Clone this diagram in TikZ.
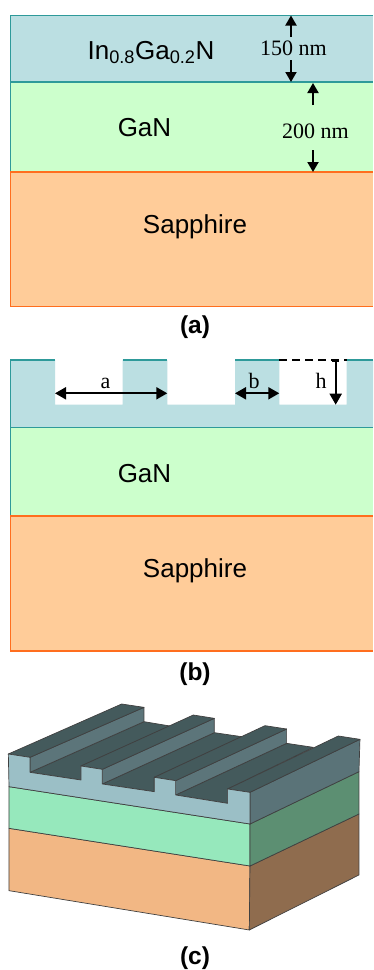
\documentclass[tikz,border=0pt]{standalone}
\usepackage{fontspec}
\setmainfont{Liberation Sans}
\newfontfamily\serifnum{Liberation Serif}
\usetikzlibrary{arrows.meta}
\definecolor{inblue}{HTML}{BBDFE2}
\definecolor{teal1}{HTML}{2E9A9A}
\definecolor{gangreen}{HTML}{CCFFCC}
\definecolor{sapp}{HTML}{FFCC99}
\definecolor{sappline}{HTML}{FF6E1E}
\definecolor{topdark}{HTML}{445A5C}
\definecolor{walllight}{HTML}{5C757A}
\definecolor{frontblue}{HTML}{9BBFC6}
\definecolor{frontgreen}{HTML}{96E8BC}
\definecolor{frontorange}{HTML}{F2B784}
\definecolor{sideblue}{HTML}{5A7378}
\definecolor{sidegreen}{HTML}{5C8F72}
\definecolor{sideorange}{HTML}{8F6C4E}
\tikzset{
  x=1pt,y=-1pt,
  sanslabel/.style={anchor=base,inner sep=0pt,font=\fontsize{26}{30}\selectfont},
  caplabel/.style={anchor=base,inner sep=0pt,font=\fontsize{24.5}{28}\selectfont\bfseries},
  dimlabel/.style={anchor=base,inner sep=0pt,font=\fontsize{22}{26}\selectfont\serifnum},
  tealline/.style={draw=teal1,line width=1.6pt},
  orangeline/.style={draw=sappline,line width=1.8pt},
  dimarrow/.style={-{Triangle[length=10pt,width=11pt]},line width=2pt,black},
  dimboth/.style={{Triangle[length=11pt,width=12pt]}-{Triangle[length=11pt,width=12pt]},line width=2pt,black},
  edge3d/.style={draw=black!75,line width=0.7pt,line join=round},
}
\begin{document}
\begin{tikzpicture}
\useasboundingbox (0,0) rectangle (373,970);
\fill[white] (0,0) rectangle (373,970);
% ---- panel a ----
\fill[sapp] (10.5,172) rectangle (373,306.5);
\fill[gangreen] (10.5,82) rectangle (373,172);
\fill[inblue] (10.5,15.5) rectangle (373,82);
\draw[tealline] (373,15.5) -- (10.5,15.5) -- (10.5,172);
\draw[tealline] (10.5,82) -- (373,82);
\draw[orangeline] (373,172) -- (10.5,172) -- (10.5,306.5) -- (373,306.5);
\node[sanslabel] (ingan) at (151,59) {In\textsubscript{0.8}Ga\textsubscript{0.2}N};
\node[sanslabel] (gana) at (144.5,136.5) {GaN};
\node[sanslabel] (sappa) at (195,233) {Sapphire};
\node[dimlabel] (d150) at (293.5,55) {150 nm};
\node[dimlabel] (d200) at (315.5,138.5) {200 nm};
\coordinate (t1) at (291,15.5); \coordinate (t1a) at (291,37);
\coordinate (t2) at (291,82); \coordinate (t2a) at (291,60);
\coordinate (u1) at (313,83); \coordinate (u1a) at (313,105);
\coordinate (u2) at (313,172); \coordinate (u2a) at (313,150);
\draw[dimarrow] (t1a) -- (t1);
\draw[dimarrow] (t2a) -- (t2);
\draw[dimarrow] (u1a) -- (u1);
\draw[dimarrow] (u2a) -- (u2);
\node[caplabel] (capa) at (195,333) {(a)};
% ---- panel b ----
\fill[sapp] (10.5,516) rectangle (373,651);
\fill[gangreen] (10.5,427.3) rectangle (373,516);
\fill[inblue] (10.5,360) -- (55,360) -- (55,404.7) -- (122.7,404.7) -- (122.7,360) -- (167.3,360) -- (167.3,404.7) -- (235,404.7) -- (235,360) -- (279.3,360) -- (279.3,404.7) -- (346.7,404.7) -- (346.7,360) -- (373,360) -- (373,427.3) -- (10.5,427.3) -- cycle;
\draw[tealline] (55,360) -- (10.5,360) -- (10.5,516);
\draw[tealline] (122.7,360) -- (167.3,360);
\draw[tealline] (235,360) -- (279.3,360);
\draw[tealline] (346.7,360) -- (373,360);
\draw[tealline] (10.5,427.3) -- (373,427.3);
\draw[orangeline] (373,516) -- (10.5,516) -- (10.5,651) -- (373,651);
\draw[black,line width=2pt,dash pattern=on 8pt off 5pt] (279.3,360) -- (346.7,360);
\coordinate (a1) at (55,393.3); \coordinate (a2) at (167.3,393.3);
\coordinate (b1) at (235,393.3); \coordinate (b2) at (279.3,393.3);
\coordinate (h1) at (335.7,360); \coordinate (h2) at (335.7,404.7);
\draw[dimboth] (a1) -- (a2);
\draw[dimboth] (b1) -- (b2);
\draw[{Bar[width=7pt,line width=1.5pt]}-{Triangle[length=11pt,width=12pt]},line width=2pt] (h1) -- (h2);
\node[dimlabel] (la) at (105.5,388.5) {a};
\node[dimlabel] (lb) at (254,388.5) {b};
\node[dimlabel] (lh) at (321,388.5) {h};
\node[sanslabel] (ganb) at (144.5,482) {GaN};
\node[sanslabel] (sappb) at (195,577) {Sapphire};
\node[caplabel] (capb) at (195,680) {(b)};
% ---- panel c (coordinates in 3x zoom of the lower region) ----
\begin{scope}[x=0.3333pt,y=-0.3333pt,yshift=-690pt]
\draw[edge3d,fill=frontorange] (27,415) -- (750,528) -- (748,720) -- (27,602) -- cycle;
\draw[edge3d,fill=sideorange] (750,528) -- (1077,372) -- (1077,555) -- (748,720) -- cycle;
\draw[edge3d,fill=frontgreen] (27,290) -- (750,402) -- (750,528) -- (27,415) -- cycle;
\draw[edge3d,fill=sidegreen] (750,402) -- (1077,245) -- (1077,372) -- (750,528) -- cycle;
\draw[edge3d,fill=sideblue] (750,307) -- (1080,148) -- (1077,245) -- (750,402) -- cycle;
% floors
\draw[edge3d,fill=topdark] (90,247) -- (432,95) -- (510,108) -- (243,228) -- (243,270) -- cycle;
\draw[edge3d,fill=topdark] (307,282) -- (643,128) -- (725,140) -- (463,262) -- (463,305) -- cycle;
\draw[edge3d,fill=topdark] (527,315) -- (860,160) -- (940,172) -- (683,297) -- (683,340) -- cycle;
% walls
\draw[edge3d,fill=walllight] (90,202) -- (432,52) -- (432,95) -- (90,247) -- cycle;
\draw[edge3d,fill=walllight] (307,238) -- (643,85) -- (643,128) -- (307,282) -- cycle;
\draw[edge3d,fill=walllight] (527,272) -- (860,117) -- (860,160) -- (527,315) -- cycle;
% ridge tops
\draw[edge3d,fill=topdark] (25,192) -- (365,42) -- (432,52) -- (90,202) -- cycle;
\draw[edge3d,fill=topdark] (243,228) -- (580,75) -- (643,85) -- (307,238) -- cycle;
\draw[edge3d,fill=topdark] (463,262) -- (795,107) -- (860,117) -- (527,272) -- cycle;
\draw[edge3d,fill=topdark] (683,297) -- (1015,138) -- (1080,148) -- (750,307) -- cycle;
% front of the grooved layer
\draw[edge3d,fill=frontblue] (25,192) -- (90,202) -- (90,247) -- (243,270) -- (243,228) -- (307,238) -- (307,282) -- (463,305) -- (463,262) -- (527,272) -- (527,315) -- (683,340) -- (683,297) -- (750,307) -- (750,402) -- (27,290) -- cycle;
\end{scope}
\node[caplabel] (capc) at (195,964) {(c)};
\end{tikzpicture}
\end{document}
